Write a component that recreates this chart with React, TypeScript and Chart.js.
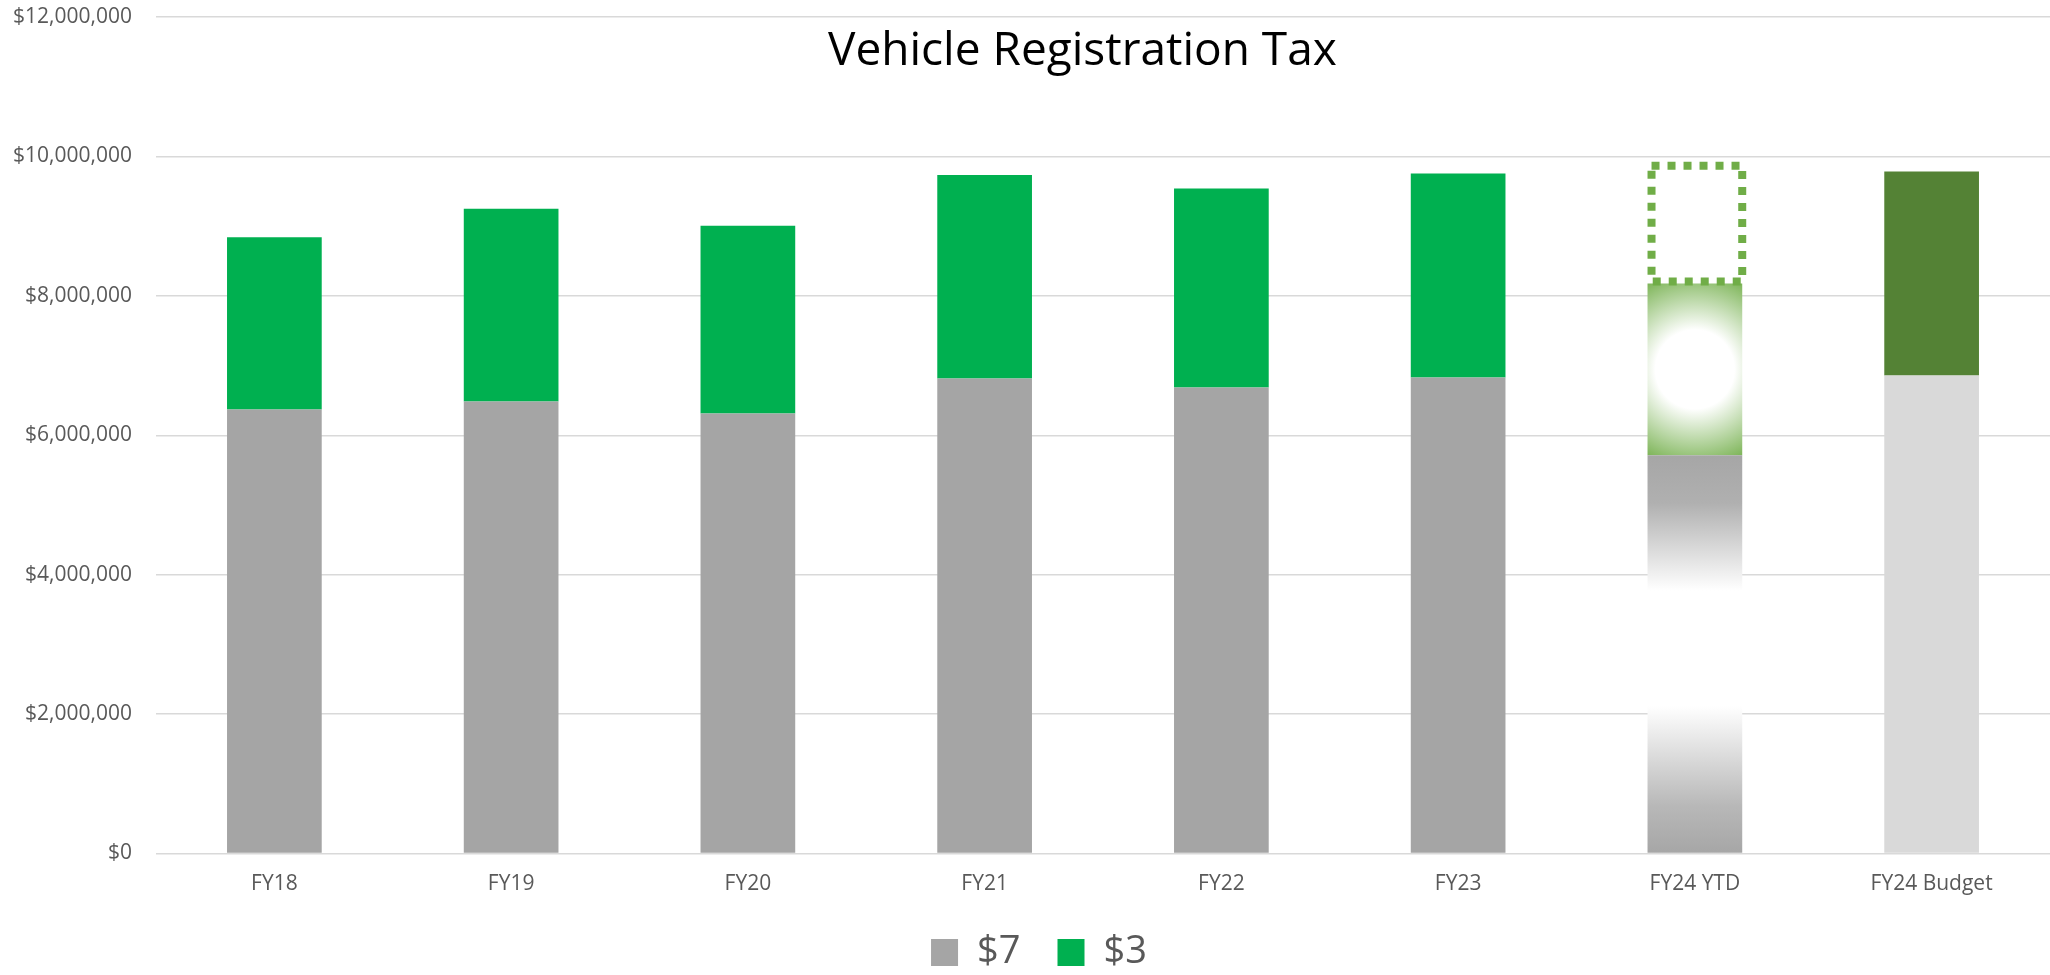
import React, { useEffect, useRef } from 'react';
import { Chart, registerables } from 'chart.js';

Chart.register(...registerables);

const categories = ['FY18', 'FY19', 'FY20', 'FY21', 'FY22', 'FY23', 'FY24 YTD', 'FY24 Budget'];
const sevenDollar = [6369000, 6483000, 6311000, 6814000, 6684000, 6828000, 5713000, 6857000];
const threeDollar = [2473000, 2766000, 2694000, 2918000, 2857000, 2928000, 2464000, 2928000];
const ytdRemaining = [null, null, null, null, null, null, 1690000, null];
const seriesLabels = ['$7', '$3'];
const chartTitle = 'Vehicle Registration Tax';
const yMax = 12000000;
const yStep = 2000000;

const YTD_INDEX = 6;
const BUDGET_INDEX = 7;
const GRAY = '#a5a5a5';
const GREEN = '#00b050';
const FONT = '"Open Sans", "Noto Sans", sans-serif';

function grayFill(c: any) {
  if (c.type !== 'data') return GRAY;
  const i = c.dataIndex;
  if (i === BUDGET_INDEX) return '#d9d9d9';
  if (i === YTD_INDEX) {
    const chart = c.chart;
    const y = chart.scales && chart.scales.y;
    if (!y || !chart.chartArea) return GRAY;
    const top = y.getPixelForValue(sevenDollar[i]);
    const bottom = y.getPixelForValue(0);
    if (!isFinite(top) || !isFinite(bottom)) return GRAY;
    const g = chart.ctx.createLinearGradient(0, top, 0, bottom);
    g.addColorStop(0, '#a6a6a6');
    g.addColorStop(0.12, '#b0b0b0');
    g.addColorStop(0.34, '#ffffff');
    g.addColorStop(0.63, '#ffffff');
    g.addColorStop(0.88, '#b8b8b8');
    g.addColorStop(1, '#a6a6a6');
    return g;
  }
  return GRAY;
}

function greenFill(c: any) {
  if (c.type !== 'data') return GREEN;
  const i = c.dataIndex;
  if (i === BUDGET_INDEX) return '#548235';
  if (i === YTD_INDEX) {
    const chart = c.chart;
    const y = chart.scales && chart.scales.y;
    const x = chart.scales && chart.scales.x;
    if (!x || !y || !chart.chartArea) return '#70ad47';
    const base = y.getPixelForValue(sevenDollar[i]);
    const top = y.getPixelForValue(sevenDollar[i] + threeDollar[i]);
    const cx = x.getPixelForValue(i);
    if (!isFinite(base) || !isFinite(top) || !isFinite(cx)) return '#70ad47';
    const cy = (base + top) / 2;
    const r = 104;
    const g = chart.ctx.createRadialGradient(cx, cy, 0, cx, cy, r);
    g.addColorStop(0, '#ffffff');
    g.addColorStop(0.38, '#ffffff');
    g.addColorStop(1, '#70ad47');
    return g;
  }
  return GREEN;
}

const overlayTitle = {
  id: 'overlayTitle',
  afterDraw(chart: any) {
    const ctx = chart.ctx;
    ctx.save();
    ctx.font = `46px ${FONT}`;
    ctx.fillStyle = '#000000';
    ctx.textAlign = 'center';
    ctx.textBaseline = 'alphabetic';
    ctx.fillText(chartTitle, chart.width * 0.528, 65);
    ctx.restore();
  },
};

const legendShift = {
  id: 'legendShift',
  afterLayout(chart: any) {
    if (chart.legend) {
      chart.legend.left += 28;
    }
  },
};

const dottedBox = {
  id: 'dottedBox',
  afterDatasetsDraw(chart: any) {
    const meta = chart.getDatasetMeta(2);
    const ctx = chart.ctx;
    meta.data.forEach((el: any, i: number) => {
      if (ytdRemaining[i] == null) return;
      const { x, y, base, width } = el.getProps(['x', 'y', 'base', 'width'], true);
      if (!isFinite(x) || !isFinite(y)) return;
      ctx.save();
      ctx.strokeStyle = '#70ad47';
      ctx.lineWidth = 8;
      ctx.setLineDash([8, 8]);
      ctx.strokeRect(x - width / 2 + 4, y, width - 4, base - y - 2);
      ctx.restore();
    });
  },
};

export default function App() {
  const ref = useRef<HTMLCanvasElement | null>(null);

  useEffect(() => {
    if (!ref.current) return;
    const chart = new Chart(ref.current, {
      type: 'bar',
      data: {
        labels: categories,
        datasets: [
          {
            label: seriesLabels[0],
            data: sevenDollar,
            backgroundColor: grayFill as any,
            borderWidth: 0,
            barPercentage: 0.4,
            categoryPercentage: 1,
          },
          {
            label: seriesLabels[1],
            data: threeDollar,
            backgroundColor: greenFill as any,
            borderWidth: 0,
            barPercentage: 0.4,
            categoryPercentage: 1,
          },
          {
            label: 'remaining',
            data: ytdRemaining as any,
            backgroundColor: 'rgba(0,0,0,0)',
            borderWidth: 0,
            barPercentage: 0.4,
            categoryPercentage: 1,
          },
        ],
      },
      options: {
        responsive: false,
        animation: false,
        devicePixelRatio: 1,
        layout: { padding: { left: 0, right: 0, top: 17, bottom: -6.5 } },
        scales: {
          x: {
            stacked: true,
            grid: { display: false, drawTicks: false },
            border: { display: false },
            ticks: { color: '#595959', font: { family: FONT, size: 21 }, padding: 18, maxRotation: 0 },
            afterFit: (s: any) => { s.height = 43; },
          },
          y: {
            stacked: true,
            min: 0,
            max: yMax,
            grid: { color: '#d9d9d9', lineWidth: 1.5, drawTicks: true, tickLength: 20, tickColor: 'rgba(0,0,0,0)' },
            border: { display: false },
            ticks: {
              stepSize: yStep,
              color: '#595959',
              font: { family: FONT, size: 21 },
              padding: 4,
              callback: (v: any) => '$' + Number(v).toLocaleString('en-US'),
            },
            afterFit: (s: any) => { s.width = 156; },
          },
        },
        plugins: {
          title: { display: false },
          tooltip: { enabled: false },
          legend: {
            position: 'bottom',
            labels: {
              filter: (item: any) => item.datasetIndex < 2,
              boxWidth: 27,
              boxHeight: 27,
              padding: 37,
              color: '#595959',
              font: { family: FONT, size: 38 },
            },
          },
        },
      },
      plugins: [overlayTitle, dottedBox, legendShift],
    });
    return () => chart.destroy();
  }, []);

  return (
    <div style={{ position: 'absolute', left: 0, top: 0, width: 2050, height: 975, background: '#fff' }}>
      <canvas ref={ref} width={2050} height={975} style={{ display: 'block' }} />
    </div>
  );
}
